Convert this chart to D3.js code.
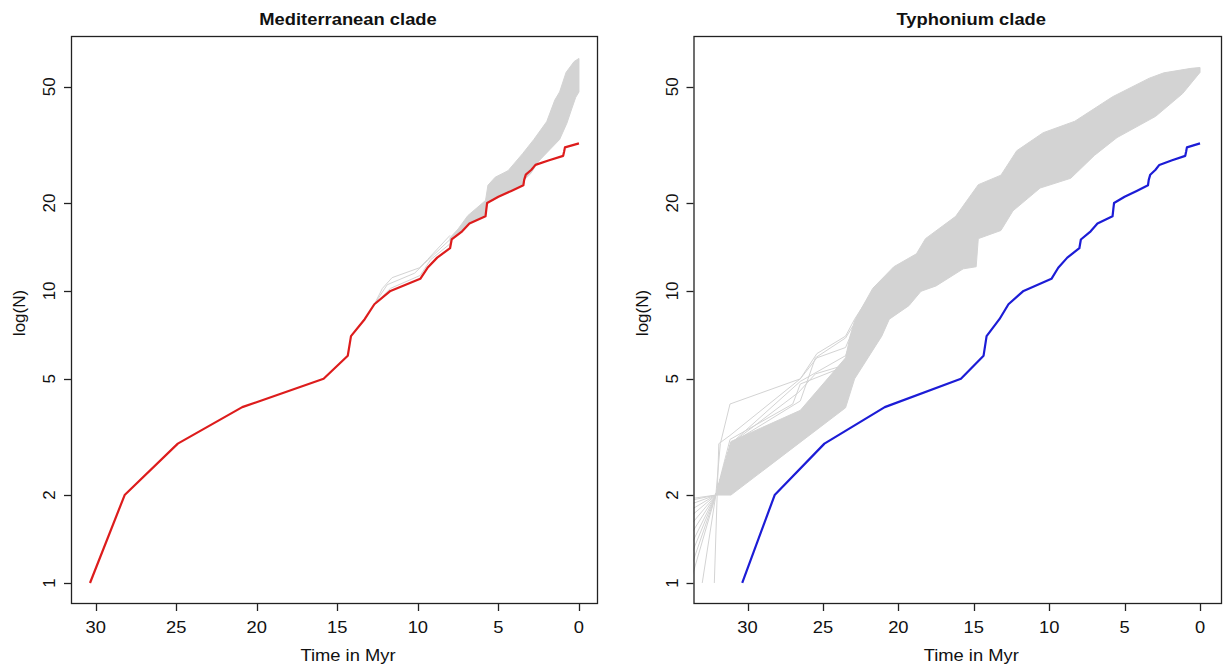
<!DOCTYPE html>
<html>
<head>
<meta charset="utf-8">
<script src="https://cdn.jsdelivr.net/npm/d3@7"></script>
<style>
  body { margin: 0; background: #fff; }
  text { font-family: "Liberation Sans", Arial, sans-serif; fill: #111; }
</style>
</head>
<body>
<svg id="vis" width="1223" height="667"></svg>
<script>
// observed lineage-through-time (same tree in both panels)
const obsTime = [30.35, 28.2, 24.9, 20.9, 15.85, 14.35, 14.15, 13.3, 12.7, 11.7, 9.85, 9.4, 8.8, 8.0, 7.9, 7.25,
  6.8, 5.8, 5.75, 5.7, 5.0, 4.2, 3.45, 3.4, 3.3, 2.95, 2.7, 1.85, 0.98, 0.92, 0.87, 0.0];
const obsN = [1, 2, 3, 4, 5, 6, 7, 8, 9, 10, 11, 12, 13, 14, 15, 16,
  17, 18, 19, 20, 21, 22, 23, 24, 25, 26, 27, 28, 29, 30, 31, 32];

// grey envelope of simulated trees, Mediterranean clade: [time, N]
const medUpper = [[8.0, 15.2], [7.5, 16.3], [6.9, 18.1], [5.8, 20.4], [5.65, 23], [5.2, 24.5], [4.4, 25.8],
  [3.5, 29.5], [2.8, 33], [2.0, 38], [1.5, 45], [1.2, 48], [0.8, 56], [0.3, 61], [0, 62.5]];
const medLower = [[8.0, 14], [7.9, 15], [7.25, 16], [6.8, 17], [5.8, 18], [5.7, 20], [5.0, 21], [4.2, 22],
  [3.45, 23], [3.4, 24], [3.0, 25.2], [2.5, 27.8], [1.8, 30.5], [1.2, 33], [0.75, 37.5], [0.45, 42],
  [0.2, 46], [0, 48]];
// the few simulated trees visible before the bundle gets dense
const medEarly = [
  [[12.7, 9], [12.2, 10.2], [11.6, 11.1], [9.9, 12], [9.4, 12.8], [8.0, 15.5]],
  [[12.7, 9], [11.9, 10.5], [10.2, 11.5], [9.6, 12.4], [8.0, 15]],
  [[12.7, 9], [11.7, 10.2], [9.85, 11.3], [9.2, 12.8], [8.0, 14.5]]
];

// grey envelope of simulated trees, Typhonium clade
const typUpper = [[32.1, 2.0], [31.1, 3.05], [26.5, 3.9], [23.5, 5.9], [23.2, 7.0], [22.9, 7.9], [21.7, 10.2],
  [20.3, 12.1], [18.8, 13.4], [18.2, 15.1], [16.2, 18.0], [14.7, 23.1], [13.2, 24.9], [12.15, 30.2],
  [10.4, 34.8], [8.3, 38.1], [5.8, 46.2], [3.36, 53.5], [2.4, 55.8], [0.6, 57.8], [0, 58.2]];
const typLower = [[32.1, 2.0], [31.1, 2.0], [23.5, 3.98], [22.9, 5.0], [21.1, 7.0], [20.6, 8.0], [19.3, 8.9],
  [18.5, 9.97], [17.5, 10.4], [15.7, 11.9], [14.84, 12.1], [14.7, 15.1], [13.2, 16.1], [12.4, 18.8],
  [10.6, 22.5], [8.57, 24.3], [7.0, 29.1], [5.5, 33.5], [2.94, 39.6], [1.15, 47.4], [0, 56]];

// root ages of simulated trees older than the plotted range
const typRoots = [33.8, 34.1, 34.5, 35.0, 35.8, 37, 39, 42, 48, 60, 73];
// a few simulated trees that stand out of the bundle
const typSparse = [
  [[33.0, 1], [32.1, 2], [31.8, 3], [31.16, 4.1], [26.5, 5.0], [25.4, 6.1], [23.5, 7.0], [22.9, 8.0], [21.8, 9.8]],
  [[32.2, 1], [31.9, 3.0], [31.16, 3.2], [26.5, 5.0], [25.4, 5.9], [23.5, 6.4], [22.7, 8.0]],
  [[32.1, 2], [31.1, 3.0], [26.5, 4.9], [23.5, 6.0], [22.8, 7.5]],
  [[32.1, 2], [31.1, 3.0], [26.6, 4.5], [25.5, 5.2], [23.4, 5.6]],
  [[32.1, 2], [31.1, 3.0], [26.5, 4.2], [25.5, 5.9], [23.5, 6.9], [23.0, 7.6]],
  [[32.1, 2], [31.16, 3.1], [27.0, 4.1], [26.5, 4.8], [23.6, 5.5]]
];

const xTicks = [30, 25, 20, 15, 10, 5, 0];
const yTicks = [1, 2, 5, 10, 20, 50];

const svg = d3.select('#vis');
const plotTop = 36, plotBottom = 603;
const grey = '#d3d3d3';
const stretch = 1.08; // the original figure is slightly wider than tall

const y = d3.scaleLog().domain([0.854, 74.6]).range([plotBottom, plotTop]);

function drawPanel(opt) {
  const x = d3.scaleLinear().domain(opt.xDomain).range([opt.left, opt.right]);
  const g = svg.append('g');

  g.append('clipPath').attr('id', opt.id)
    .append('rect')
      .attr('x', opt.left).attr('y', plotTop)
      .attr('width', opt.right - opt.left).attr('height', plotBottom - plotTop);

  const plot = g.append('g').attr('clip-path', 'url(#' + opt.id + ')');
  const line = d3.line().x(d => x(d[0])).y(d => y(d[1]));

  plot.selectAll('path.sim')
    .data(opt.extra)
    .enter()
    .append('path')
      .classed('sim', true)
      .attr('d', line)
      .attr('fill', 'none')
      .attr('stroke', grey)
      .attr('stroke-width', 1);

  // simulated bundle as filled envelope
  plot.append('path')
    .attr('d', line(opt.upper.concat(opt.lower.slice().reverse())) + 'Z')
    .attr('fill', grey)
    .attr('stroke', grey)
    .attr('stroke-width', 1);

  const obs = obsTime.map((t, i) => [t, obsN[i]]);
  plot.append('path')
    .attr('d', line(obs))
    .attr('fill', 'none')
    .attr('stroke', opt.colour)
    .attr('stroke-width', 2.2)
    .attr('stroke-linejoin', 'round');

  // box
  g.append('rect')
    .attr('x', opt.left + 0.5).attr('y', plotTop + 0.5)
    .attr('width', opt.right - opt.left).attr('height', plotBottom - plotTop)
    .attr('fill', 'none').attr('stroke', '#222').attr('stroke-width', 1.3);

  // x axis
  const xa = g.append('g');
  xa.selectAll('line').data(xTicks).enter().append('line')
    .attr('x1', d => Math.round(x(d)) + 0.5).attr('x2', d => Math.round(x(d)) + 0.5)
    .attr('y1', plotBottom).attr('y2', plotBottom + 8)
    .attr('stroke', '#222').attr('stroke-width', 1.3);
  xa.selectAll('text').data(xTicks).enter().append('text')
    .attr('transform', d => 'translate(' + x(d) + ',633) scale(' + stretch + ',1)')
    .attr('text-anchor', 'middle').style('font-size', '17px')
    .text(d => d);

  // y axis
  const ya = g.append('g');
  ya.selectAll('line').data(yTicks).enter().append('line')
    .attr('x1', opt.left - 7).attr('x2', opt.left)
    .attr('y1', d => Math.round(y(d)) + 0.5).attr('y2', d => Math.round(y(d)) + 0.5)
    .attr('stroke', '#222').attr('stroke-width', 1.3);
  ya.selectAll('text').data(yTicks).enter().append('text')
    .attr('transform', d => 'translate(' + (opt.left - 16) + ',' + y(d) + ') rotate(-90)')
    .attr('text-anchor', 'middle').style('font-size', '17px')
    .text(d => d);

  const cx = (opt.left + opt.right) / 2 + 14;
  g.append('text')
    .attr('transform', 'translate(' + cx + ',25) scale(' + stretch + ',1)')
    .attr('text-anchor', 'middle')
    .style('font-size', '17px').style('font-weight', 'bold')
    .text(opt.title);
  g.append('text')
    .attr('transform', 'translate(' + cx + ',661) scale(' + stretch + ',1)')
    .attr('text-anchor', 'middle').style('font-size', '17px')
    .text('Time in Myr');
  g.append('text')
    .attr('transform', 'translate(' + (opt.left - 46) + ',313) rotate(-90)')
    .attr('text-anchor', 'middle').style('font-size', '17px')
    .text('log(N)');
}

drawPanel({
  id: 'clipMed', left: 71, right: 597, xDomain: [31.53, -1.12],
  upper: medUpper, lower: medLower, extra: medEarly,
  colour: '#dd1c1c', title: 'Mediterranean clade'
});

drawPanel({
  id: 'clipTyp', left: 693.5, right: 1221, xDomain: [33.58, -1.39],
  upper: typUpper, lower: typLower,
  extra: typRoots.map(r => [[r, 1], [32.1, 2], [31.1, 3]]).concat(typSparse),
  colour: '#1c1cd6', title: 'Typhonium clade'
});
</script>
</body>
</html>
